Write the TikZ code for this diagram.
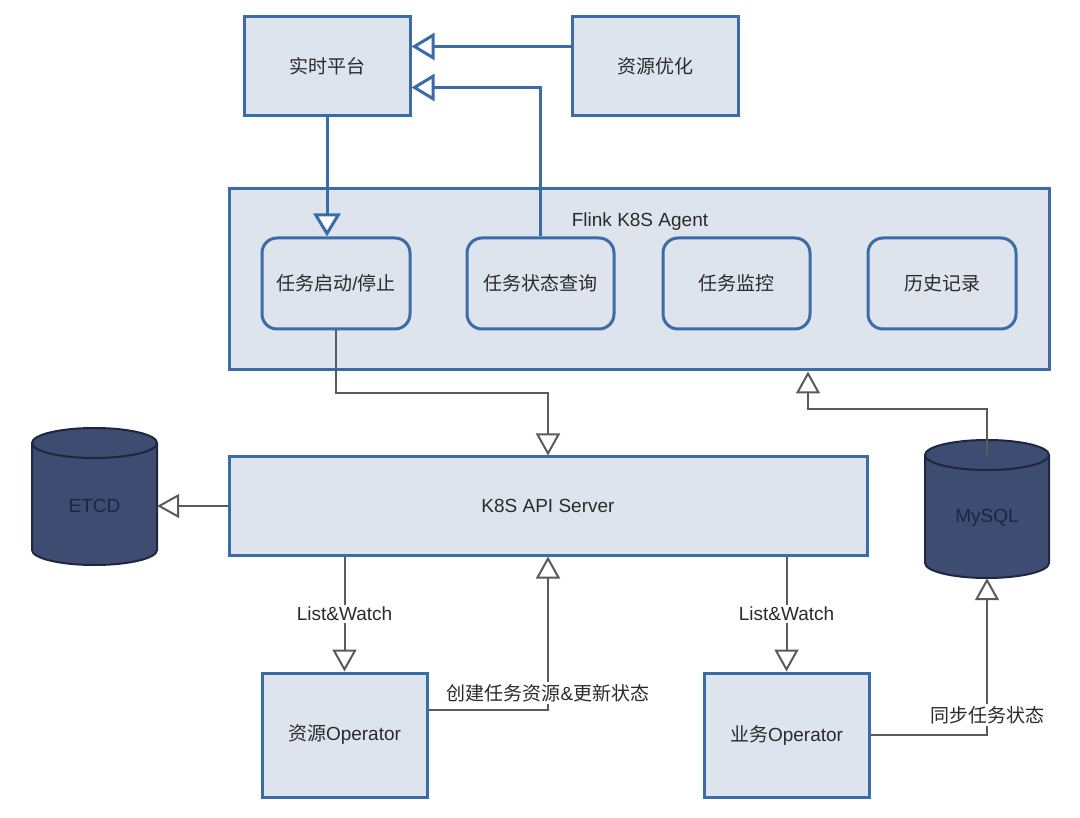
\documentclass[tikz,border=0pt]{standalone}
\usepackage{fontspec}
\setmainfont{Liberation Sans}
\newfontfamily\cjk{Noto Sans CJK SC}
\usetikzlibrary{arrows.meta,calc}
\definecolor{boxfill}{HTML}{DDE4EE}
\definecolor{boxline}{HTML}{3C6CA8}
\definecolor{cylfill}{HTML}{3F4C72}
\definecolor{cylline}{HTML}{1D2642}
\definecolor{cyltext}{HTML}{1A2644}
\definecolor{conn}{HTML}{5A5A5A}
\definecolor{txt}{HTML}{2B2B2B}
\begin{document}
\begin{tikzpicture}[x=1pt,y=-1pt,
  font=\fontsize{19}{23}\selectfont,
  box/.style={draw=boxline, fill=boxfill, line width=3pt, text=txt, inner sep=0pt},
  rbox/.style={box, rounded corners=15pt},
  cyl/.style={fill=cylfill, draw=cylline, line width=2pt},
  cyllabel/.style={text=cyltext, inner sep=0pt},
  bluearrow/.style={draw=boxline, line width=3pt, -{Triangle[length=23pt,width=27pt,fill=white]}},
  grayarrow/.style={draw=conn, line width=2pt, -{Triangle[length=22pt,width=24pt,fill=white]}},
  lbl/.style={fill=white, text=txt, inner sep=2pt}
]
\useasboundingbox (0,0) rectangle (1080,818);

% top boxes
\node[box, minimum width=166pt, minimum height=99pt] (rt) at (327,66.5) {\cjk 实时平台};
\node[box, minimum width=166pt, minimum height=99pt] (zy) at (655,66.5) {\cjk 资源优化};

% agent
\node[box, minimum width=820pt, minimum height=181pt] (agent) at (639,279.5) {};
\node[text=txt, inner sep=0pt] (agentlbl) at (640,222) {Flink K8S Agent};
\node[rbox, minimum width=148pt, minimum height=91pt] (ss) at (336,283.5) {{\cjk 任务启动}/{\cjk 停止}};
\node[rbox, minimum width=147pt, minimum height=91pt] (q) at (540.5,283.5) {\cjk 任务状态查询};
\node[rbox, minimum width=147pt, minimum height=91pt] (mon) at (736.5,283.5) {\cjk 任务监控};
\node[rbox, minimum width=148pt, minimum height=91pt] (hist) at (942,283.5) {\cjk 历史记录};

% api server
\node[box, minimum width=638pt, minimum height=98pt] (api) at (548,506) {K8S API Server};

% cylinders
\filldraw[cyl] (32,443) -- (32,550) arc[start angle=180,end angle=0,x radius=62.5,y radius=15]
  -- (157,443) arc[start angle=0,end angle=-180,x radius=62.5,y radius=15] -- cycle;
\draw[draw=cylline, line width=2pt] (32,443) arc[start angle=180,end angle=0,x radius=62.5,y radius=15];
\node[cyllabel, minimum width=125pt, minimum height=118pt] (etcd) at (94.5,506) {ETCD};

\filldraw[cyl] (925,455) -- (925,563) arc[start angle=180,end angle=0,x radius=62,y radius=15]
  -- (1049,455) arc[start angle=0,end angle=-180,x radius=62,y radius=15] -- cycle;
\draw[draw=cylline, line width=2pt] (925,455) arc[start angle=180,end angle=0,x radius=62,y radius=15];
\node[cyllabel, minimum width=124pt, minimum height=120pt] (mysql) at (987,518) {MySQL};

% operators
\node[box, minimum width=165pt, minimum height=124pt] (op1) at (344.5,735) {{\cjk 资源}Operator};
\node[box, minimum width=165pt, minimum height=124pt] (op2) at (786.5,735) {{\cjk 业务}Operator};

% blue connectors
\draw[bluearrow] ([yshift=20pt]zy.west) -- ([yshift=20pt]rt.east);
\draw[bluearrow] (q.north) |- ([yshift=-21pt]rt.east);
\draw[bluearrow] (rt.south) -- (rt.south |- ss.north);

% gray connectors
\draw[grayarrow] (ss.south) -- ++(0,63) -| (api.north);
\draw[grayarrow] (api.west) -- (api.west -| etcd.east);
\draw[grayarrow] ([yshift=2pt]mysql.north) -- ++(0,-47) -| ([xshift=169pt]agent.south);
\draw[grayarrow] (op1.north |- api.south) -- node[lbl] {List\&Watch} (op1.north);
\draw[grayarrow] ([yshift=25pt]op1.east) -| node[lbl, pos=0.5, yshift=17pt] {{\cjk 创建任务资源}\&{\cjk 更新状态}} (api.south);
\draw[grayarrow] (op2.north |- api.south) -- node[lbl] {List\&Watch} (op2.north);
\draw[grayarrow] (op2.east) -| node[lbl, pos=0.5, yshift=20pt] {\cjk 同步任务状态} (mysql.south);
\end{tikzpicture}
\end{document}
